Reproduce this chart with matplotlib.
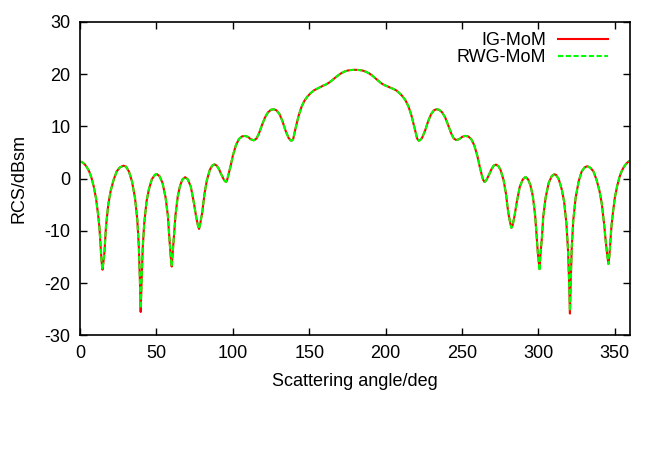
import matplotlib
matplotlib.use('Agg')
import matplotlib.pyplot as plt

# RCS vs scattering angle, IG-MoM against RWG-MoM
angle = [
    0, 1.5, 3, 4.5, 6, 7.5, 9, 10.5, 11.8, 12.7, 13.4, 14.1, 14.7, 15.3, 16, 17, 18.5, 20, 22, 24,
    26, 28.4, 30, 32, 34, 36, 37.5, 38.5, 39.2, 39.7, 40.2, 41, 42, 43.5, 45, 47, 49, 50.2, 52, 54,
    56, 57.5, 58.5, 59.4, 60, 60.7, 61.5, 62.5, 64, 65.5, 67, 68.8, 70.5, 72.5, 74.5, 76, 77.2, 77.9, 78.8, 80,
    81.5, 83, 85, 86.5, 88, 89.5, 91, 92.5, 94, 95, 95.6, 96.3, 97, 98.5, 100, 102, 104, 106, 108, 110,
    111.5, 113.7, 115.5, 117, 119, 121, 123, 125, 126.8, 128.5, 130.5, 132.5, 134.5, 136.5, 137.8, 138.6, 139.5, 141, 143, 145,
    147, 149, 151, 153, 155, 157, 159, 161, 163, 165, 167, 169, 171, 173, 175, 177, 180, 183, 185, 187,
    189, 191, 193, 195, 197, 199, 201, 203, 205, 207, 209, 211, 213, 215, 217, 219, 220.6, 221.6, 222.4, 223.8,
    225.8, 227.8, 229.8, 231.6, 233.3, 235, 237, 239, 241, 243, 244.6, 246.3, 248.3, 250, 252, 254, 256, 258, 260, 261.5,
    263, 263.8, 264.7, 265.3, 266.2, 267.7, 269.2, 270.7, 272.2, 273.7, 275.2, 277.2, 278.7, 280.2, 281.4, 282.3, 283.1, 284.3, 285.8, 287.8,
    289.8, 291.5, 293.3, 294.8, 296.3, 297.8, 298.8, 299.6, 300.7, 301.3, 302.2, 303.2, 304.7, 306.7, 308.7, 310.3, 311.5, 313.3, 315.3, 316.8,
    318.3, 319.3, 320.1, 320.6, 321.1, 321.8, 322.8, 324.3, 326.3, 328.3, 330.3, 332, 334, 336, 338, 340, 341.5, 343, 344.2, 345.1,
    345.8, 346.4, 347.1, 347.8, 348.7, 350, 351.5, 353, 354.5, 356, 357.5, 359, 360,
]

rcs_ig = [
    3.3, 3.15, 2.8, 2.2, 1.4, 0.2, -1.5, -3.8, -6.8, -9.3, -12.5, -15.8, -17.4, -16.0, -14.0, -9.1, -4.9, -2.4, -0.2, 1.4,
    2.15, 2.5, 2.35, 1.4, -0.5, -3.7, -7.9, -13.1, -19.5, -25.5, -20.5, -13.4, -8.6, -4.4, -2.1, -0.1, 0.75, 0.9, 0.5, -0.8,
    -3.6, -7.1, -11.5, -15.0, -16.8, -14.0, -11.0, -6.9, -3.3, -1.3, -0.15, 0.3, -0.1, -1.5, -4.6, -7.3, -9.0, -9.6, -8.4, -6.4,
    -2.8, -0.3, 1.75, 2.5, 2.75, 2.5, 1.8, 0.8, -0.1, -0.5, -0.6, -0.2, 0.6, 2.4, 4.4, 6.4, 7.6, 8.1, 8.2, 8.0,
    7.6, 7.35, 7.7, 8.6, 10.2, 11.7, 12.7, 13.2, 13.3, 13.1, 12.4, 11.0, 9.2, 7.8, 7.35, 7.3, 7.6, 9.6, 12.0, 13.8,
    15.0, 15.8, 16.4, 16.9, 17.2, 17.5, 17.8, 18.05, 18.4, 18.85, 19.35, 19.8, 20.2, 20.5, 20.7, 20.8, 20.85, 20.8, 20.7, 20.5,
    20.2, 19.8, 19.3, 18.8, 18.3, 17.95, 17.7, 17.45, 17.2, 16.9, 16.4, 15.8, 15.0, 13.8, 12.0, 9.6, 7.7, 7.3, 7.35, 7.8,
    9.2, 11.0, 12.4, 13.1, 13.3, 13.2, 12.7, 11.7, 10.2, 8.6, 7.7, 7.4, 7.6, 8.0, 8.2, 8.1, 7.6, 6.4, 4.4, 2.4,
    0.6, -0.2, -0.6, -0.5, -0.1, 0.8, 1.8, 2.5, 2.7, 2.45, 1.7, -0.3, -2.8, -6.4, -8.3, -9.4, -8.9, -7.2, -4.5, -1.5,
    -0.1, 0.35, -0.15, -1.3, -3.3, -6.9, -11.0, -14.2, -17.3, -14.5, -11.5, -7.1, -3.6, -0.8, 0.5, 0.85, 0.75, -0.1, -2.1, -4.4,
    -8.6, -13.4, -20.0, -25.8, -19.8, -13.1, -7.9, -3.7, -0.5, 1.4, 2.2, 2.4, 2.1, 1.4, -0.2, -2.4, -4.9, -8.8, -12.5, -14.8,
    -16.3, -14.8, -12.0, -9.0, -6.6, -3.6, -1.4, 0.3, 1.5, 2.3, 2.9, 3.3, 3.4,
]

# RWG-MoM lies on top of IG-MoM except for the depth of some nulls
rwg_null_angle = [39.7, 300.7, 320.6]
rwg_null_rcs = [-24.8, -17.6, -25.3]

rcs_rwg = list(rcs_ig)
for a, v in zip(rwg_null_angle, rwg_null_rcs):
    rcs_rwg[angle.index(a)] = v

plt.rcParams['font.family'] = ['Liberation Sans', 'DejaVu Sans']
plt.rcParams['font.size'] = 13
plt.rcParams['axes.unicode_minus'] = False

fig = plt.figure(figsize=(6.64, 4.65), dpi=100)
ax = fig.add_axes([0.1205, 0.2785, 0.8285, 0.6742])

ax.plot(angle, rcs_ig, color='#ff0000', lw=1.5, label='IG-MoM')
ax.plot(angle, rcs_rwg, color='#00ff00', lw=1.5, dashes=(2.5, 1.2), label='RWG-MoM')

ax.set_xlim(0, 360)
ax.set_ylim(-30, 30)
ax.set_xticks(range(0, 351, 50))
ax.set_yticks(range(-30, 31, 10))
ax.tick_params(direction='in', length=5, width=1, top=True, right=True, pad=7)
for s in ax.spines.values():
    s.set_linewidth(1.2)

ax.set_xlabel('Scattering angle/deg', labelpad=8)
ax.set_ylabel('RCS/dBsm', labelpad=12)

ax.legend(loc='upper right', bbox_to_anchor=(0.96, 0.967), frameon=False, markerfirst=False,
          handlelength=2.78, handletextpad=0.67, labelspacing=0.0, borderpad=0, borderaxespad=0)

fig.savefig('out.png', dpi=100)
